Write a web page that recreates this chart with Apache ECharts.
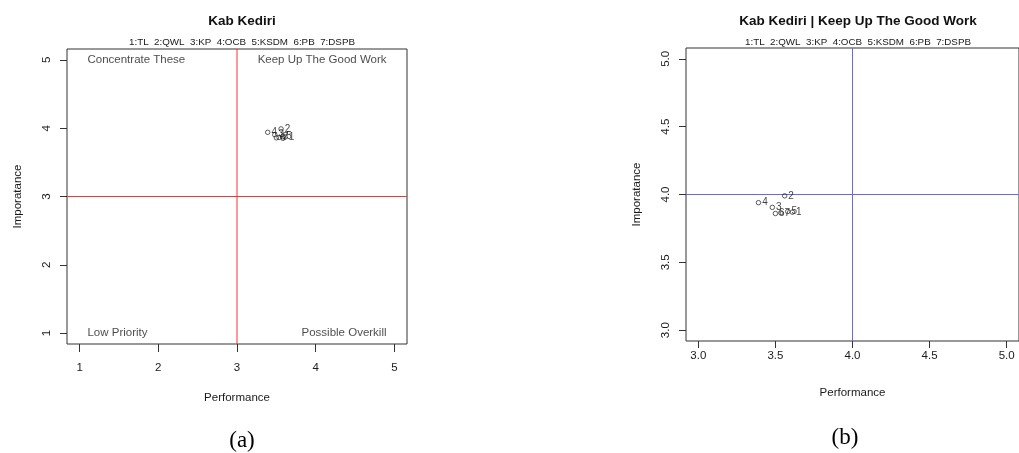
<!DOCTYPE html>
<html><head><meta charset="utf-8">
<script src="https://cdn.jsdelivr.net/npm/echarts@6/dist/echarts.min.js"></script>
<style>html,body{margin:0;padding:0;background:#fff}#c{width:1019px;height:453px}</style>
</head><body><div id="c"></div>
<script>
// ---- data ----
const pointIds = ['1','2','3','4','5','6','7'];
const performance = [3.61, 3.56, 3.48, 3.39, 3.58, 3.50, 3.535];
const importance  = [3.87, 3.99, 3.905, 3.94, 3.875, 3.86, 3.865];
const legendText = '1:TL\u00a0\u00a02:QWL\u00a0\u00a03:KP\u00a0\u00a04:OCB\u00a0\u00a05:KSDM\u00a0\u00a06:PB\u00a0\u00a07:DSPB';
const ticksA = [1, 2, 3, 4, 5];
const ticksB = [3.0, 3.5, 4.0, 4.5, 5.0];
const rangeA = [0.84, 5.16];
const rangeB = [2.92, 5.08];
const cutA = 3, cutB = 4;
const quadNames = ['Concentrate These', 'Keep Up The Good Work', 'Low Priority', 'Possible Overkill'];
const quadX = [1.1, 4.9, 1.1, 4.9];
const quadY = [5, 5, 1, 1];
const quadAlign = ['left', 'right', 'left', 'right'];

const FONT = 'Liberation Sans, Arial, sans-serif';
const pts = performance.map((p, i) => ({ value: [p, importance[i]], name: pointIds[i] }));

function xAxis(grid, range, ticks, fmt, tickLen, margin, nameGap) {
  return {
    type: 'value', gridIndex: grid, min: range[0], max: range[1],
    axisLine: { show: false }, splitLine: { show: false },
    axisTick: { show: true, customValues: ticks, length: tickLen, lineStyle: { color: '#333' } },
    axisLabel: { customValues: ticks, formatter: fmt, color: '#1a1a1a', fontSize: 11.5, fontFamily: FONT, margin: margin },
    name: 'Performance', nameLocation: 'middle', nameGap: nameGap,
    nameTextStyle: { color: '#1a1a1a', fontSize: 11.5, fontFamily: FONT }
  };
}
function yAxis(grid, range, ticks, fmt) {
  return {
    type: 'value', gridIndex: grid, min: range[0], max: range[1],
    axisLine: { show: false }, splitLine: { show: false },
    axisTick: { show: true, customValues: ticks, length: 7, lineStyle: { color: '#333' } },
    axisLabel: { customValues: ticks, formatter: fmt, rotate: 90, color: '#1a1a1a', fontSize: 11.5, fontFamily: FONT, margin: 14 },
    name: 'Imporatance', nameLocation: 'middle', nameGap: 43, nameRotate: 90,
    nameTextStyle: { color: '#1a1a1a', fontSize: 11.5, fontFamily: FONT }
  };
}
const f0 = v => String(v);
const f1 = v => v.toFixed(1);

function pointSeries(idx) {
  return {
    type: 'scatter', xAxisIndex: idx, yAxisIndex: idx, data: pts, z: 5,
    symbol: 'circle', symbolSize: 4.5, silent: true,
    itemStyle: { color: 'rgba(0,0,0,0)', borderColor: '#222', borderWidth: 0.9 },
    label: { show: true, position: 'right', distance: 1, formatter: p => p.name,
             color: '#111', fontSize: 10, fontFamily: FONT },
    labelLayout: { hideOverlap: false }
  };
}
function cutLine(idx, data, color) {
  return {
    type: 'line', xAxisIndex: idx, yAxisIndex: idx, data: data, silent: true,
    symbol: 'none', z: 1, lineStyle: { color: color, width: 1 }
  };
}

const option = {
  animation: false,
  backgroundColor: '#fff',
  title: [
    { text: 'Kab Kediri', left: 237, top: 9, textAlign: 'center',
      textStyle: { fontSize: 13.5, fontWeight: 'bold', color: '#111', fontFamily: FONT } },
    { text: legendText, left: 237, top: 32, textAlign: 'center',
      textStyle: { fontSize: 9.8, fontWeight: 'normal', color: '#1a1a1a', fontFamily: FONT } },
    { text: 'Kab Kediri | Keep Up The Good Work', left: 853, top: 9, textAlign: 'center',
      textStyle: { fontSize: 13.5, fontWeight: 'bold', color: '#111', fontFamily: FONT } },
    { text: legendText, left: 853, top: 32, textAlign: 'center',
      textStyle: { fontSize: 9.8, fontWeight: 'normal', color: '#1a1a1a', fontFamily: FONT } },
    { text: '(a)', left: 237, top: 424, textAlign: 'center',
      textStyle: { fontSize: 23, fontWeight: 'normal', color: '#000', fontFamily: 'Liberation Serif, Times New Roman, serif' } },
    { text: '(b)', left: 840, top: 421, textAlign: 'center',
      textStyle: { fontSize: 23, fontWeight: 'normal', color: '#000', fontFamily: 'Liberation Serif, Times New Roman, serif' } }
  ],
  grid: [
    { left: 67, top: 49, width: 340, height: 295, show: true, borderColor: '#333', borderWidth: 1, backgroundColor: 'transparent' },
    { left: 686, top: 48, width: 335, height: 293, show: true, borderColor: '#333', borderWidth: 1, backgroundColor: 'transparent' }
  ],
  xAxis: [ xAxis(0, rangeA, ticksA, f0, 8, 18, 48), xAxis(1, rangeB, ticksB, f1, 7, 9, 46) ],
  yAxis: [ yAxis(0, rangeA, ticksA, f0), yAxis(1, rangeB, ticksB, f1) ],
  series: [
    cutLine(0, [[cutA, rangeA[0]], [cutA, rangeA[1]]], '#ff3030'),
    cutLine(0, [[rangeA[0], cutA], [rangeA[1], cutA]], '#ff3030'),
    cutLine(1, [[cutB, rangeB[0]], [cutB, rangeB[1]]], '#6464ff'),
    cutLine(1, [[rangeB[0], cutB], [rangeB[1], cutB]], '#6464ff'),
    pointSeries(0),
    pointSeries(1),
    {
      type: 'scatter', xAxisIndex: 0, yAxisIndex: 0, symbolSize: 0, silent: true,
      data: quadNames.map((n, i) => ({
        value: [quadX[i], quadY[i]], name: n,
        label: { align: quadAlign[i] }
      })),
      label: { show: true, position: 'inside', formatter: p => p.name, verticalAlign: 'middle',
               color: '#1a1a1a', fontSize: 11.5, fontFamily: FONT },
      labelLayout: { hideOverlap: false }
    }
  ]
};
const chart = echarts.init(document.getElementById('c'), null, { renderer: 'canvas' });
chart.setOption(option);
</script></body></html>
